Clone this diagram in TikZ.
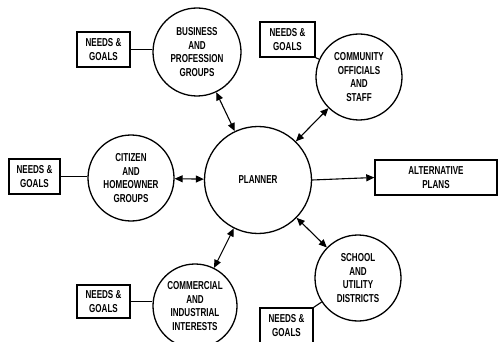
\documentclass[tikz,border=0pt]{standalone}
\usepackage{fontspec}
\setmainfont{Liberation Sans}[FakeStretch=0.7]
\usetikzlibrary{arrows.meta}
\begin{document}
\begin{tikzpicture}[x=1pt,y=-1pt,
  lbl/.style={font=\fontsize{11.5}{13.8}\selectfont\bfseries, align=center},
  party/.style={lbl, circle, draw, line width=1.3pt, minimum size=86pt, inner sep=0pt},
  hub/.style={lbl, circle, draw, line width=1.3pt, minimum size=107pt, inner sep=0pt},
  needbox/.style={lbl, draw, line width=1.4pt, minimum width=53pt, minimum height=35pt, inner sep=0pt},
  planbox/.style={lbl, draw, line width=1.4pt, minimum width=122pt, minimum height=35pt, inner sep=0pt},
  link/.style={line width=1.1pt},
  dbl/.style={line width=1.1pt, {Triangle[length=8pt,width=7pt]}-{Triangle[length=8pt,width=7pt]}},
  sgl/.style={line width=1.1pt, -{Triangle[length=8pt,width=7pt]}}]
\useasboundingbox (0,0) rectangle (498,342);
\node[hub] (planner) at (258,180) {PLANNER};
\node[party, minimum size=88pt] (business) at (197,52) {BUSINESS\\AND\\PROFESSION\\GROUPS};
\node[party] (community) at (359,77) {COMMUNITY\\OFFICIALS\\AND\\STAFF};
\node[party] (citizen) at (131,178) {CITIZEN\\AND\\HOMEOWNER\\GROUPS};
\node[party, minimum size=84pt] (commercial) at (195,306) {COMMERCIAL\\AND\\INDUSTRIAL\\INTERESTS};
\node[party] (school) at (358,278) {SCHOOL\\AND\\UTILITY\\DISTRICTS};
\node[planbox] (plans) at (436,177.5) {ALTERNATIVE\\PLANS};
\node[needbox] (n1) at (103.5,49.5) {NEEDS \&\\GOALS};
\node[needbox, minimum width=55pt] (n2) at (287.5,39.5) {NEEDS \&\\GOALS};
\node[needbox, minimum width=51pt] (n3) at (34.5,176.5) {NEEDS \&\\GOALS};
\node[needbox, minimum height=33pt] (n4) at (103.5,301.5) {NEEDS \&\\GOALS};
\node[needbox] (n5) at (286.5,325.5) {NEEDS \&\\GOALS};
\draw[link] (n1.east) -- (n1.east -| business.west);
\draw[link] (n2.south east) -- (community);
\draw[link] (n3.east) -- (n3.east -| citizen.west);
\draw[link] (n4.east) -- (n4.east -| commercial.west);
\draw[link] (n5.north east) -- (school);
\draw[dbl] (planner) -- (business);
\draw[dbl] (planner) -- (community);
\draw[dbl] (planner) -- (citizen);
\draw[dbl] (planner) -- (commercial);
\draw[dbl] (planner) -- (school);
\draw[sgl] (planner.east) -- (plans.west);
\end{tikzpicture}
\end{document}
